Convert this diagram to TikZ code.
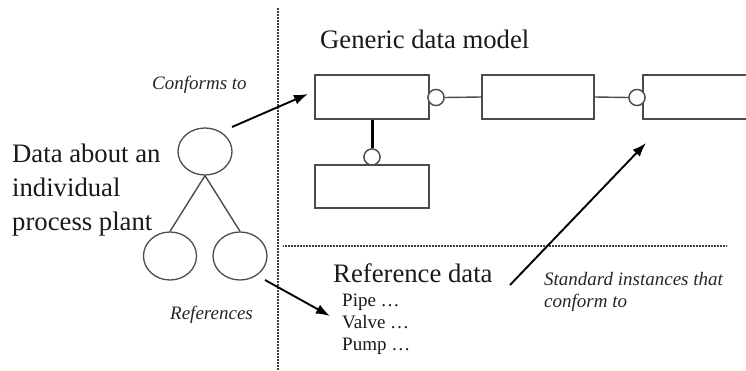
\documentclass[tikz,border=0pt]{standalone}
\usepackage{fontspec}
\setmainfont{Liberation Serif}
\usetikzlibrary{arrows.meta,shapes.geometric}
\begin{document}
\begin{tikzpicture}[x=1pt,y=-1pt,
  boxshape/.style={draw=black!70,line width=1.4pt,rectangle,inner sep=0pt},
  ring/.style={draw=black!70,line width=1.3pt,fill=white,circle,minimum size=16pt,inner sep=0pt},
  oval/.style={draw=black!70,line width=1.3pt,ellipse,inner sep=0pt},
  link/.style={draw=black!70,line width=1.4pt},
  arr/.style={draw=black,line width=1.9pt,-{Latex[length=14pt,width=10pt]}},
  sep/.style={draw=black!75,line width=1.3pt,dash pattern=on 0.8pt off 0.7pt},
  big/.style={font=\fontsize{26.7}{33.5}\selectfont,inner sep=0pt,text=black!90},
  small/.style={font=\fontsize{19}{22}\selectfont,inner sep=0pt,text=black!90},
  smallit/.style={font=\fontsize{19}{22}\selectfont\itshape,inner sep=0pt,text=black!85}]
\useasboundingbox (0,0) rectangle (746,371);
\clip (0,0) rectangle (746,371);
% separators
\coordinate (vtop) at (278,8);
\coordinate (vbot) at (278,371);
\coordinate (hl) at (283,246);
\coordinate (hr) at (727,246);
\draw[sep] (vtop) -- (vbot);
\draw[sep] (hl) -- (hr);
% boxes
\node[boxshape,minimum width=114pt,minimum height=44pt] (b1) at (372,97) {};
\node[boxshape,minimum width=114pt,minimum height=43pt] (b2) at (372,186.5) {};
\node[boxshape,minimum width=112pt,minimum height=44pt] (b3) at (538,97) {};
\node[boxshape,minimum width=120pt,minimum height=44pt] (b4) at (703,97) {};
% connectors between boxes
\node[ring] (c1) at (436,97.5) {};
\node[ring] (c2) at (637,97.5) {};
\node[ring] (c3) at (372,157) {};
\draw[link] (c1.east) -- (b3.west);
\draw[link] (b3.east) -- (c2.west);
\draw[draw=black,line width=3pt] (b1.south) -- (c3.north);
\node[ring] at (c1) {};
\node[ring] at (c2) {};
\node[ring] at (c3) {};
% ovals
\node[oval,minimum width=54pt,minimum height=47pt] (e1) at (205,151.5) {};
\node[oval,minimum width=53pt,minimum height=48pt] (e2) at (170,256) {};
\node[oval,minimum width=54pt,minimum height=48pt] (e3) at (240,256) {};
\draw[link] (e1.south) -- (e2.north);
\draw[link] (e1.south) -- (e3.north);
% texts
\node[big,anchor=base west,align=left] (dtxt) at (12,230) {Data about an\\individual\\process plant};
\node[big,anchor=base west] (gdm) at (320,49) {Generic data model};
\node[big,anchor=base west] (rd) at (333,282) {Reference data};
\node[small,anchor=base west,align=left] (items) at (342,350) {Pipe …\\Valve …\\Pump …};
\node[smallit,anchor=base west] (conf) at (152,90) {Conforms to};
\node[smallit,anchor=base west] (refs) at (170,319) {References};
\node[smallit,anchor=base west,align=left] (std) at (544,307) {Standard instances that\\conform to};
% arrows
\coordinate (a1s) at (232,127);
\coordinate (a1e) at (308,94);
\coordinate (a2s) at (265,280);
\coordinate (a2e) at (330,316);
\coordinate (a3s) at (510,285);
\coordinate (a3e) at (646,143);
\draw[arr] (a1s) -- (a1e);
\draw[arr] (a2s) -- (a2e);
\draw[arr] (a3s) -- (a3e);
\end{tikzpicture}
\end{document}
